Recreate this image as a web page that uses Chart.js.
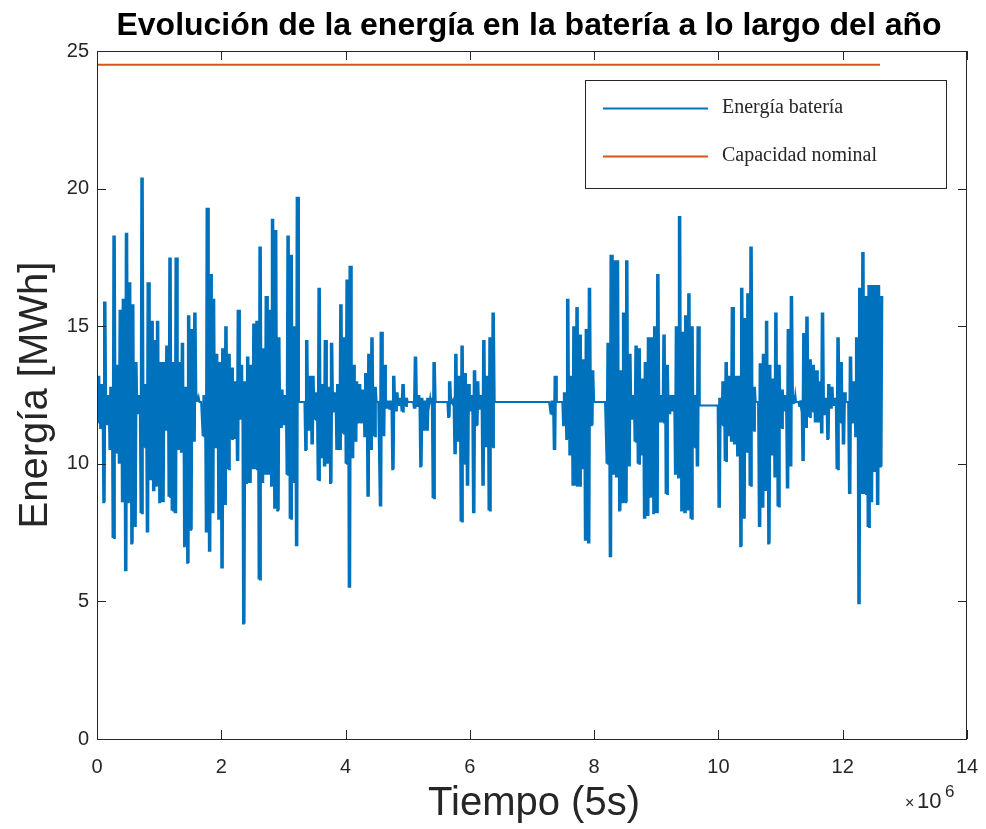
<!DOCTYPE html>
<html>
<head>
<meta charset="utf-8">
<title>Evolución de la energía en la batería</title>
<script src="https://cdn.jsdelivr.net/npm/chart.js@4.4.1/dist/chart.umd.min.js"></script>
<style>
  html, body { margin: 0; padding: 0; background: #fff; }
  #wrap { width: 986px; height: 829px; }
</style>
</head>
<body>
<div id="wrap"><canvas id="energyChart" width="986" height="829"></canvas></div>
<script>
// Energy stored in the battery over the year (MWh), summarised per time bin:
// inside each bin the trace swings between the bin minimum and maximum.
const binWidth = 0.05e6;          // samples per bin (5 s steps)
const energyLow = [
  11.5, 11.3, 8.6, 11.4, 10.5, 7.3, 10.4, 10.0, 8.6, 6.1,
  8.6, 7.1, 7.7, 11.8, 8.2, 10.6, 7.5, 9.4, 9.0, 9.2,
  8.6, 8.6, 11.2, 8.8, 8.3, 8.2, 10.5, 10.4, 7.0, 6.4,
  7.6, 10.8, 12.25, 12.25, 11.0, 7.5, 6.8, 8.2, 10.6, 8.0,
  6.2, 8.5, 9.8, 10.9, 10.9, 10.1, 11.6, 4.2, 9.3, 9.3,
  9.8, 9.8, 5.8, 9.3, 9.6, 9.6, 9.2, 8.4, 8.3, 11.3,
  11.4, 9.6, 8.0, 9.3, 7.0, 12.25, 12.25, 10.5, 11.2, 10.7,
  11.6, 9.4, 10.2, 9.9, 10.0, 9.3, 11.9, 10.5, 10.5, 11.1,
  10.0, 5.5, 10.2, 10.8, 11.5, 11.5, 11.0, 8.8, 10.5, 11.0,
  12.25, 8.45, 11.0, 12.0, 12.0, 9.8, 11.9, 12.1, 11.9, 12.1,
  12.25, 12.25, 12.0, 12.1, 9.9, 11.2, 11.2, 12.2, 8.75, 12.25,
  12.25, 12.25, 12.25, 11.7, 12.2, 10.35, 10.8, 7.9, 10.0, 9.2,
  11.9, 8.2, 11.4, 12.0, 9.2, 10.6, 8.3, 10.6, 12.25, 12.25,
  12.25, 12.25, 12.25, 12.25, 12.25, 12.25, 12.25, 12.25, 12.25, 12.25,
  12.25, 12.25, 12.25, 12.25, 12.25, 12.25, 11.8, 10.5, 12.25, 12.25,
  11.4, 10.9, 10.3, 9.2, 9.2, 9.2, 9.8, 7.2, 7.1, 11.4,
  12.25, 12.25, 12.25, 12.25, 10.0, 6.6, 9.6, 9.5, 8.3, 8.6,
  8.6, 9.9, 11.6, 10.8, 10.0, 10.3, 8.0, 8.1, 8.8, 8.2,
  8.2, 11.5, 11.5, 8.9, 11.8, 11.9, 9.6, 9.5, 8.3, 8.2,
  8.3, 8.0, 10.6, 9.9, 12.12, 12.12, 12.12, 12.12, 12.12, 12.12,
  8.4, 11.4, 10.1, 11.0, 10.8, 10.7, 10.3, 7.0, 8.0, 10.4,
  9.2, 11.2, 12.25, 7.7, 8.4, 9.05, 7.1, 10.3, 9.5, 8.45,
  11.3, 11.9, 9.1, 9.9, 12.2, 12.25, 12.1, 10.1, 11.3, 11.7,
  11.9, 11.5, 11.5, 11.1, 11.8, 10.9, 12.0, 12.1, 9.8, 11.5,
  10.7, 12.25, 8.9, 11.5, 11.0, 4.9, 8.9, 8.9, 7.7, 8.6,
  9.7, 8.5, 9.9
];
const energyHigh = [
  13.2, 12.9, 15.9, 12.5, 12.8, 18.3, 13.6, 15.6, 16.0, 18.4,
  16.6, 15.8, 13.7, 12.5, 20.4, 12.9, 16.6, 15.2, 14.5, 15.2,
  13.7, 13.7, 14.3, 17.5, 13.7, 17.5, 13.7, 14.4, 12.8, 15.4,
  14.9, 15.5, 12.4, 12.25, 12.5, 19.3, 16.9, 16.0, 14.0, 13.7,
  14.2, 15.0, 14.0, 13.5, 13.0, 15.6, 13.6, 13.0, 13.9, 13.6,
  15.1, 15.2, 17.9, 14.2, 16.1, 15.6, 18.9, 18.5, 14.6, 12.7,
  12.5, 18.3, 17.6, 15.0, 19.7, 12.25, 12.25, 14.5, 13.2, 13.2,
  12.6, 16.4, 12.9, 14.5, 12.8, 14.4, 12.6, 12.9, 15.8, 14.6,
  16.7, 17.2, 13.6, 13.0, 12.9, 12.7, 13.3, 14.0, 14.6, 12.8,
  12.25, 14.8, 13.6, 12.3, 12.3, 13.2, 12.6, 12.4, 12.9, 12.4,
  12.25, 12.25, 13.9, 12.5, 12.4, 12.3, 12.4, 12.4, 13.7, 12.25,
  12.25, 12.25, 12.25, 13.0, 12.3, 14.0, 13.2, 14.3, 13.3, 12.9,
  12.5, 13.4, 13.0, 12.5, 14.5, 13.2, 14.6, 15.5, 12.25, 12.25,
  12.25, 12.25, 12.25, 12.25, 12.25, 12.25, 12.25, 12.25, 12.25, 12.25,
  12.25, 12.25, 12.25, 12.25, 12.25, 12.25, 12.3, 13.2, 12.25, 12.25,
  12.6, 16.0, 13.2, 15.0, 15.7, 14.7, 13.8, 14.9, 16.4, 13.4,
  12.25, 12.25, 12.25, 12.25, 14.4, 17.6, 17.4, 17.4, 13.4, 15.5,
  17.4, 14.0, 12.5, 14.3, 14.2, 13.1, 13.7, 14.6, 14.6, 15.0,
  16.9, 12.5, 14.7, 13.6, 12.5, 12.5, 15.0, 19.0, 14.8, 15.4,
  16.2, 15.0, 12.5, 15.0, 12.12, 12.12, 12.12, 12.12, 12.12, 12.12,
  12.4, 13.0, 13.7, 13.2, 15.7, 13.2, 13.2, 16.4, 15.3, 16.2,
  17.9, 12.8, 12.25, 13.65, 14.0, 15.2, 13.6, 13.1, 15.5, 13.6,
  12.7, 12.5, 14.9, 16.1, 12.5, 12.25, 12.3, 14.75, 15.35, 13.8,
  13.6, 13.4, 13.0, 15.5, 12.4, 12.9, 12.8, 12.4, 14.6, 13.7,
  12.6, 12.25, 13.9, 13.0, 14.6, 16.4, 17.7, 16.1, 16.5, 16.5,
  16.5, 16.5, 16.1
];

// Nominal capacity, drawn as a flat line over the simulated period
const capacityTimes = [0, 12.6e6];
const capacityValues = [24.5, 24.5];

const xTicks = [0, 2e6, 4e6, 6e6, 8e6, 10e6, 12e6, 14e6];
const yTicks = [0, 5, 10, 15, 20, 25];

const AXIS_COLOR = '#262626';
const BLUE = '#0072BD';
const ORANGE = '#D95319';

// each bin is traced min -> max -> min -> max so the swing fills its width
function buildEnergyPoints() {
  const pts = [];
  for (let i = 0; i < energyLow.length; i++) {
    const t = i * binWidth;
    pts.push({ x: t, y: energyLow[i] });
    pts.push({ x: t + binWidth * 0.25, y: energyHigh[i] });
    pts.push({ x: t + binWidth * 0.5, y: energyLow[i] });
    pts.push({ x: t + binWidth * 0.75, y: energyHigh[i] });
  }
  return pts;
}

// MATLAB-like frame: box on all four sides, inward ticks, titles, legend
const figureDecor = {
  id: 'figureDecor',
  afterDraw(chart) {
    const ctx = chart.ctx;
    const a = chart.chartArea;
    const xs = chart.scales.x, ys = chart.scales.y;
    ctx.save();
    ctx.strokeStyle = AXIS_COLOR;
    ctx.lineWidth = 1;
    ctx.strokeRect(Math.round(a.left) + 0.5, Math.round(a.top) + 0.5,
                   Math.round(a.right - a.left) - 1, Math.round(a.bottom - a.top));

    const tl = 9;
    ctx.beginPath();
    xTicks.forEach(v => {
      const px = Math.round(xs.getPixelForValue(v)) + 0.5;
      ctx.moveTo(px, a.bottom); ctx.lineTo(px, a.bottom - tl);
      ctx.moveTo(px, a.top); ctx.lineTo(px, a.top + tl);
    });
    yTicks.forEach(v => {
      const py = Math.round(ys.getPixelForValue(v)) + 0.5;
      ctx.moveTo(a.left, py); ctx.lineTo(a.left + tl, py);
      ctx.moveTo(a.right, py); ctx.lineTo(a.right - tl, py);
    });
    ctx.stroke();

    // title
    ctx.fillStyle = '#000';
    ctx.font = 'bold 32px "Liberation Sans", Arial, sans-serif';
    ctx.textAlign = 'center';
    ctx.textBaseline = 'alphabetic';
    ctx.fillText('Evolución de la energía en la batería a lo largo del año', 529, 35);

    // axis titles
    ctx.fillStyle = AXIS_COLOR;
    ctx.font = '40px "Liberation Sans", Arial, sans-serif';
    ctx.fillText('Tiempo (5s)', 534, 815);
    ctx.save();
    ctx.translate(47, (a.top + a.bottom) / 2);
    ctx.rotate(-Math.PI / 2);
    ctx.fillText('Energía [MWh]', 0, 0);
    ctx.restore();

    // exponent of the x axis
    ctx.textAlign = 'left';
    ctx.font = '16px "Liberation Sans", Arial, sans-serif';
    ctx.fillText('×', 905, 808);
    ctx.font = '22px "Liberation Sans", Arial, sans-serif';
    ctx.fillText('10', 917, 808);
    ctx.font = '17px "Liberation Sans", Arial, sans-serif';
    ctx.fillText('6', 945, 797);

    // legend
    const box = { left: 585, top: 80, right: 946, bottom: 188 };
    ctx.fillStyle = '#fff';
    ctx.fillRect(box.left, box.top, box.right - box.left, box.bottom - box.top);
    ctx.strokeStyle = AXIS_COLOR;
    ctx.lineWidth = 1;
    ctx.strokeRect(box.left + 0.5, box.top + 0.5, box.right - box.left, box.bottom - box.top);
    const rows = [108, 156];
    ctx.font = '20px "Liberation Serif", "Times New Roman", serif';
    ctx.textBaseline = 'middle';
    chart.data.datasets.forEach((ds, i) => {
      const y = rows[i] + 0.5;
      ctx.strokeStyle = ds.borderColor;
      ctx.lineWidth = 1.8;
      ctx.beginPath();
      ctx.moveTo(603, y); ctx.lineTo(708, y);
      ctx.stroke();
      ctx.fillStyle = AXIS_COLOR;
      ctx.fillText(ds.label, 722, rows[i]);
    });
    ctx.restore();
  }
};

const ctx = document.getElementById('energyChart');
new Chart(ctx, {
  type: 'line',
  data: {
    datasets: [
      {
        label: 'Energía batería',
        data: buildEnergyPoints(),
        borderColor: BLUE,
        borderWidth: 2,
        pointRadius: 0,
        tension: 0,
        fill: false
      },
      {
        label: 'Capacidad nominal',
        data: capacityTimes.map((t, i) => ({ x: t, y: capacityValues[i] })),
        borderColor: ORANGE,
        borderWidth: 2,
        pointRadius: 0,
        tension: 0,
        fill: false
      }
    ]
  },
  options: {
    responsive: false,
    animation: false,
    devicePixelRatio: 1,
    layout: { padding: { top: 51, right: 19, left: 0, bottom: 0 } },
    plugins: {
      legend: { display: false },
      title: { display: false },
      tooltip: { enabled: false }
    },
    scales: {
      x: {
        type: 'linear',
        min: 0,
        max: 14e6,
        afterFit(scale) {
          // fixed axis band; edge labels may overhang into the page margin
          scale.height = 90;
          scale.paddingLeft = 0;
          scale.paddingRight = 0;
        },
        afterBuildTicks(scale) { scale.ticks = xTicks.map(v => ({ value: v })); },
        grid: { display: false, drawTicks: false },
        border: { display: false },
        ticks: {
          padding: 16,
          color: AXIS_COLOR,
          font: { family: '"Liberation Sans", Arial, sans-serif', size: 20 },
          maxRotation: 0,
          callback: v => String(v / 1e6)
        }
      },
      y: {
        min: 0,
        max: 25,
        afterFit(scale) { scale.width = 97; },
        afterBuildTicks(scale) { scale.ticks = yTicks.map(v => ({ value: v })); },
        grid: { display: false, drawTicks: false },
        border: { display: false },
        ticks: {
          padding: 8,
          color: AXIS_COLOR,
          font: { family: '"Liberation Sans", Arial, sans-serif', size: 20 }
        }
      }
    }
  },
  plugins: [figureDecor]
});
</script>
</body>
</html>
